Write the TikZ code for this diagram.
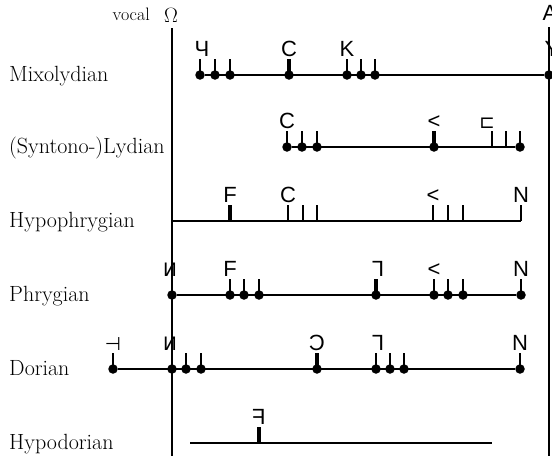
\documentclass[tikz,border=0pt]{standalone}
\usepackage{fontspec}
\usepackage{graphicx}
\newfontfamily\symfam{Liberation Sans}
\newfontfamily\dvfam{DejaVu Sans}
\newcommand\symfont{\symfam\fontsize{22}{22}\selectfont}
\newcommand\dvsmall{\dvfam\fontsize{18.5}{18.5}\selectfont}
\newcommand\modefont{\fontsize{22}{22}\selectfont}
\newcommand\rev[1]{\reflectbox{#1}}
\newcommand\dotnote[4]{\node[pt] (#1) at (#2,#3) {}; \draw[#4] (#1.center) -- ++(0,-16);}
\newcommand\ticknote[4]{\coordinate (#1) at (#2,#3); \draw[#4] (#1) -- ++(0,-16);}
\newcommand\lab[3][0]{\node[sym] (#2-l) at ([xshift=#1pt,yshift=19pt]#2.center) {#3};}
\begin{document}
\begin{tikzpicture}[x=1pt,y=-1pt,
  staff/.style={line width=1.2pt},
  rulel/.style={line width=1.4pt},
  pt/.style={circle, fill=black, draw=none, inner sep=0pt, minimum size=9.5pt},
  tk/.style={line width=1.2pt},
  tkb/.style={line width=3.4pt},
  notk/.style={draw=none},
  sym/.style={font=\symfont, anchor=base, inner sep=0pt},
  mode/.style={font=\modefont, anchor=base west, inner sep=0pt}]
\useasboundingbox (0,0) rectangle (552,456);
% vertical rules
\coordinate (Ltop) at (172,28); \coordinate (Lbot) at (172,456);
\coordinate (Rtop) at (549,27); \coordinate (Rbot) at (549,456);
\draw[rulel] (Ltop) -- (Lbot);
\draw[rulel] (Rtop) -- (Rbot);
\node[anchor=base east, inner sep=0pt, font=\fontsize{18}{18}\selectfont] (vocal) at (150,20) {vocal};
\node[anchor=base, inner sep=0pt, font=\fontsize{20}{20}\selectfont] (omega) at (171,22) {$\Omega$};
\node[sym] (alpha) at (550,20) {A};
% mode names
\node[mode] (n1) at (9,81.5) {Mixolydian};
\node[mode] (n2) at (9,153.5) {(Syntono-)Lydian};
\node[mode] (n3) at (9,227.5) {Hypophrygian};
\node[mode] (n4) at (9,301.5) {Phrygian};
\node[mode] (n5) at (9,375.5) {Dorian};
\node[mode] (n6) at (9,449.5) {Hypodorian};
% Mixolydian
\dotnote{m1}{200}{75}{tk}\dotnote{m2}{215}{75}{tk}\dotnote{m3}{230}{75}{tk}
\dotnote{m4}{289}{75}{tkb}
\dotnote{m5}{347}{75}{tk}\dotnote{m6}{361}{75}{tk}\dotnote{m7}{375}{75}{tk}
\dotnote{m8}{549}{75}{notk}
\draw[staff] (m1) -- (m8);
\lab[2]{m1}{Ч}\lab{m4}{C}\lab{m5}{K}\lab[3]{m8}{Y}
% (Syntono-)Lydian
\dotnote{l1}{287}{147}{tk}\dotnote{l2}{302}{147}{tk}\dotnote{l3}{317}{147}{tk}
\dotnote{l4}{434}{147}{tkb}
\ticknote{l5}{492}{147}{tk}\ticknote{l6}{506}{147}{tk}
\dotnote{l7}{520}{147}{tk}
\draw[staff] (l1) -- (l7);
\lab{l1}{C}\lab{l4}{<}\lab[-5]{l5}{\dvsmall ⊏}
% Hypophrygian
\coordinate (h0) at (172,221);
\ticknote{h1}{230}{221}{tkb}
\ticknote{h2}{288}{221}{tk}\ticknote{h3}{303}{221}{tk}\ticknote{h4}{317}{221}{tk}
\ticknote{h5}{433}{221}{tk}\ticknote{h6}{448}{221}{tk}\ticknote{h7}{463}{221}{tk}
\ticknote{h8}{521}{221}{tk}
\draw[staff] (h0) -- (h8);
\lab{h1}{F}\lab{h2}{C}\lab{h5}{<}\lab{h8}{N}
% Phrygian
\dotnote{p0}{172}{295}{notk}
\dotnote{p1}{230}{295}{tk}\dotnote{p2}{244}{295}{tk}\dotnote{p3}{259}{295}{tk}
\dotnote{p4}{376}{295}{tkb}
\dotnote{p5}{434}{295}{tk}\dotnote{p6}{448}{295}{tk}\dotnote{p7}{463}{295}{tk}
\dotnote{p8}{521}{295}{tk}
\draw[staff] (p0) -- (p8);
\lab[-2]{p0}{\dvsmall Ͷ}\lab{p1}{F}\lab[2]{p4}{\rev{Γ}}\lab{p5}{<}\lab{p8}{N}
% Dorian
\dotnote{d0}{113}{369}{tk}
\dotnote{d1}{172}{369}{notk}\dotnote{d2}{186}{369}{tk}\dotnote{d3}{201}{369}{tk}
\dotnote{d4}{317}{369}{tkb}
\dotnote{d5}{376}{369}{tk}\dotnote{d6}{390}{369}{tk}\dotnote{d7}{404}{369}{tk}
\dotnote{d8}{520}{369}{tk}
\draw[staff] (d0) -- (d8);
\lab{d0}{\dvsmall ⊣}\lab[-2]{d1}{\dvsmall Ͷ}\lab{d4}{\rev{C}}\lab[2]{d5}{\rev{Γ}}\lab{d8}{N}
% Hypodorian
\coordinate (u0) at (190,443); \coordinate (u2) at (492,443);
\ticknote{u1}{259}{443}{tkb}
\draw[staff] (u0) -- (u2);
\lab{u1}{\rev{F}}
\end{tikzpicture}
\end{document}
